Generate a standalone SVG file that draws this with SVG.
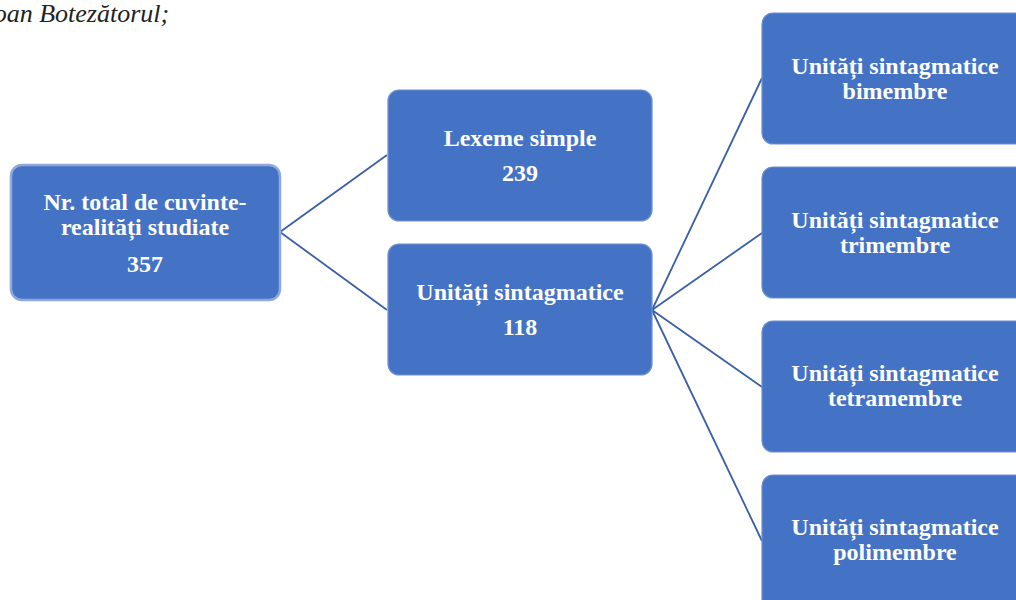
<svg xmlns="http://www.w3.org/2000/svg" width="1016" height="600" viewBox="0 0 1016 600">
<style>
.box{fill:#4472C4;stroke:#6F90CF;stroke-width:1.2}
.root{fill:#4472C4;stroke:#8EA9DB;stroke-width:2.5}
.t{font-family:"Liberation Serif","Times New Roman",serif;font-weight:bold;font-size:24px;fill:#FFFFFF;text-anchor:middle}
.cap{font-family:"Liberation Serif","Times New Roman",serif;font-style:italic;font-size:26px;fill:#222222}
.c{stroke:#3A5FA8;stroke-width:1.8;fill:none}
</style>
<rect width="1016" height="600" fill="#FFFFFF"/>
<text class="cap" x="-15" y="22">Ioan Botezătorul;</text>
<g id="connectors">
<line class="c" x1="280" y1="232" x2="387" y2="155"/>
<line class="c" x1="280" y1="232" x2="387" y2="310"/>
<line class="c" x1="652" y1="310" x2="762" y2="78"/>
<line class="c" x1="652" y1="310" x2="762" y2="233"/>
<line class="c" x1="652" y1="310" x2="762" y2="387"/>
<line class="c" x1="652" y1="310" x2="762" y2="541"/>
</g>
<g id="root">
<rect class="root" x="11" y="165" width="269" height="135" rx="11"/>
<text class="t" x="145" y="210">Nr. total de cuvinte-</text>
<text class="t" x="145" y="235">realități studiate</text>
<text class="t" x="145" y="272">357</text>
</g>
<g id="lexeme">
<rect class="box" x="388" y="90" width="264" height="131" rx="11"/>
<text class="t" x="520" y="146">Lexeme simple</text>
<text class="t" x="520" y="181">239</text>
</g>
<g id="unitati">
<rect class="box" x="388" y="244" width="264" height="131" rx="11"/>
<text class="t" x="520" y="300">Unități sintagmatice</text>
<text class="t" x="520" y="335">118</text>
</g>
<g id="bimembre">
<rect class="box" x="762" y="13" width="270" height="131" rx="11"/>
<text class="t" x="895" y="74">Unități sintagmatice</text>
<text class="t" x="895" y="99">bimembre</text>
</g>
<g id="trimembre">
<rect class="box" x="762" y="167" width="270" height="131" rx="11"/>
<text class="t" x="895" y="228">Unități sintagmatice</text>
<text class="t" x="895" y="253">trimembre</text>
</g>
<g id="tetramembre">
<rect class="box" x="762" y="321" width="270" height="131" rx="11"/>
<text class="t" x="895" y="381">Unități sintagmatice</text>
<text class="t" x="895" y="406">tetramembre</text>
</g>
<g id="polimembre">
<rect class="box" x="762" y="475" width="270" height="140" rx="11"/>
<text class="t" x="895" y="535">Unități sintagmatice</text>
<text class="t" x="895" y="560">polimembre</text>
</g>
</svg>
